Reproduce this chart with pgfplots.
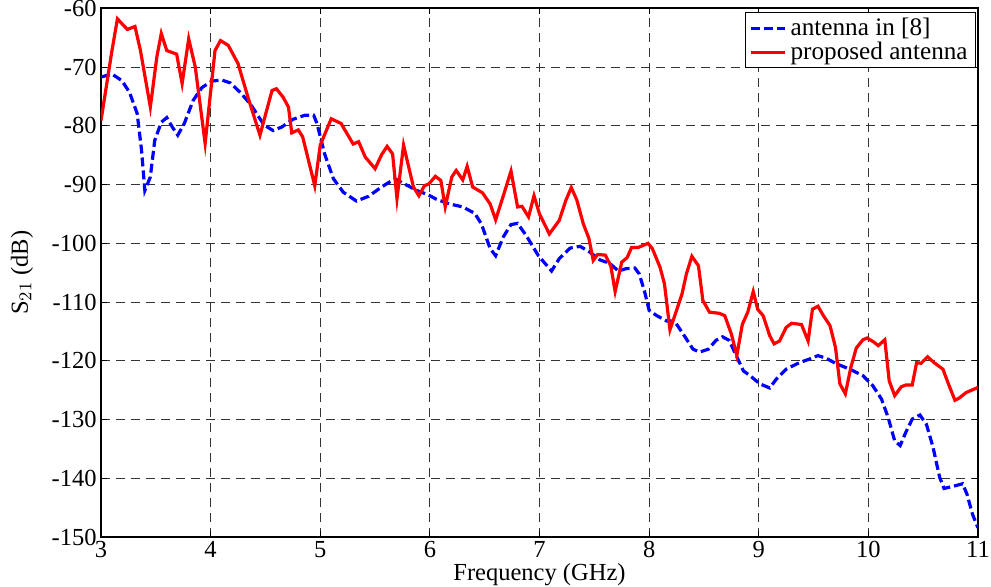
\documentclass[border=0pt]{standalone}
\usepackage{fontspec}
\setmainfont{Liberation Serif}
\usepackage{pgfplots}
\pgfplotsset{compat=1.18}
\begin{document}
\fontsize{12.25}{14}\selectfont
\begin{tikzpicture}
\begin{axis}[
  name=main,
  scale only axis,
  width=438.5pt, height=264.5pt,
  xmin=3, xmax=11, ymin=-150, ymax=-60,
  xtick={3,4,...,11}, ytick={-150,-140,...,-60},
  /pgf/number format/assume math mode=true,
  tick label style={font=\fontsize{12.25}{14}\selectfont},
  xticklabel style={inner sep=0pt, yshift=-2pt},
  yticklabel style={inner sep=0pt, xshift=-2pt},
  tick align=inside, major tick length=3pt,
  tick style={black, line width=0.5pt},
  axis line style={line width=1pt},
  grid=major,
  major grid style={black!80, dash pattern=on 4.5pt off 3pt, line width=0.45pt},
  xlabel={Frequency (GHz)},
  ylabel={S$_{21}$ (dB)},
  xlabel style={at={(axis description cs:0.5,-0.048)}, anchor=north, inner sep=0pt},
  ylabel style={at={(axis description cs:-0.077,0.5)}, anchor=south, inner sep=0pt},
  legend cell align=left,
  legend style={at={(rel axis cs:0.998,0.993)}, anchor=north east, draw=black, line width=0.6pt,
    font=\fontsize{12.6}{12.8}\selectfont, inner xsep=2pt, inner ysep=0.5pt, row sep=-2.5pt, fill=white,
    nodes={inner sep=2pt}},
  legend image post style={line width=1.6pt},
]
\addplot[blue, line width=1.6pt, dash pattern=on 4.5pt off 2pt] coordinates {
(3.00,-71.7)(3.10,-71.2)(3.19,-72.3)(3.26,-74.3)(3.33,-77.9)(3.37,-84.2)(3.40,-91.0)(3.45,-88.7)(3.49,-82.5)(3.55,-79.4)(3.60,-78.6)(3.65,-80.2)(3.70,-81.6)(3.76,-79.6)(3.84,-75.7)(3.92,-73.5)(4.01,-72.4)(4.10,-72.2)(4.18,-72.7)(4.28,-74.5)(4.37,-76.5)(4.45,-78.8)(4.49,-79.9)(4.57,-80.8)(4.65,-80.2)(4.75,-78.9)(4.86,-78.2)(4.94,-78.2)(4.97,-79.6)(5.04,-84.8)(5.12,-89.0)(5.21,-91.3)(5.33,-92.8)(5.44,-92.0)(5.56,-90.4)(5.68,-89.0)(5.77,-89.9)(5.88,-91.0)(5.98,-91.7)(6.06,-92.5)(6.18,-93.3)(6.30,-93.8)(6.41,-94.9)(6.47,-96.7)(6.55,-100.9)(6.60,-102.1)(6.67,-98.9)(6.74,-96.8)(6.80,-96.6)(6.88,-98.7)(6.99,-102.1)(7.11,-104.7)(7.18,-102.6)(7.28,-100.8)(7.37,-100.5)(7.46,-101.5)(7.55,-102.8)(7.64,-103.4)(7.72,-104.7)(7.79,-104.3)(7.87,-104.2)(7.91,-105.2)(7.96,-108.3)(8.00,-111.4)(8.07,-112.3)(8.16,-113.2)(8.23,-113.2)(8.31,-115.4)(8.40,-118.0)(8.46,-118.5)(8.54,-118.0)(8.61,-116.5)(8.67,-115.9)(8.73,-116.5)(8.78,-118.5)(8.86,-121.7)(8.92,-122.5)(9.01,-123.9)(9.10,-124.6)(9.16,-123.1)(9.25,-121.4)(9.37,-120.3)(9.46,-119.7)(9.54,-119.1)(9.61,-119.5)(9.71,-120.5)(9.83,-121.4)(9.95,-122.5)(10.04,-124.2)(10.12,-126.5)(10.18,-129.6)(10.24,-133.6)(10.29,-134.4)(10.34,-132.2)(10.40,-129.9)(10.47,-129.2)(10.53,-130.8)(10.59,-134.7)(10.65,-139.8)(10.69,-141.7)(10.78,-141.3)(10.86,-140.9)(10.90,-142.7)(10.95,-146.1)(11.00,-148.4)
};
\addlegendentry{antenna in [8]}
\addplot[red, line width=1.6pt] coordinates {
(3.00,-79.1)(3.10,-67.2)(3.15,-61.8)(3.24,-63.6)(3.31,-63.1)(3.36,-67.2)(3.45,-76.8)(3.51,-68.2)(3.55,-64.3)(3.60,-67.2)(3.69,-67.8)(3.74,-72.8)(3.80,-65.2)(3.86,-70.0)(3.95,-83.0)(4.04,-67.2)(4.09,-65.5)(4.16,-66.3)(4.25,-69.4)(4.34,-75.1)(4.45,-81.6)(4.56,-74.0)(4.60,-73.7)(4.66,-75.1)(4.71,-76.8)(4.74,-81.2)(4.80,-80.7)(4.84,-81.9)(4.95,-90.2)(5.00,-83.3)(5.10,-78.8)(5.19,-79.6)(5.30,-83.1)(5.35,-82.7)(5.41,-85.3)(5.50,-87.3)(5.56,-84.9)(5.61,-83.5)(5.66,-84.8)(5.70,-92.4)(5.76,-83.3)(5.85,-90.4)(5.90,-91.9)(5.95,-90.2)(5.99,-89.9)(6.05,-88.6)(6.10,-89.3)(6.14,-93.8)(6.20,-88.7)(6.24,-87.6)(6.30,-89.2)(6.34,-86.9)(6.39,-90.4)(6.48,-91.4)(6.55,-93.3)(6.60,-96.0)(6.67,-91.9)(6.74,-87.7)(6.80,-93.8)(6.84,-93.7)(6.90,-95.5)(6.95,-91.9)(7.00,-95.0)(7.09,-98.4)(7.18,-96.1)(7.24,-92.7)(7.29,-90.5)(7.34,-92.6)(7.40,-96.7)(7.45,-99.1)(7.49,-102.9)(7.53,-101.9)(7.60,-102.0)(7.65,-103.8)(7.69,-108.2)(7.75,-103.2)(7.80,-102.4)(7.84,-100.7)(7.90,-100.7)(7.99,-100.0)(8.03,-100.9)(8.10,-104.1)(8.14,-106.9)(8.19,-114.7)(8.25,-111.4)(8.30,-108.6)(8.34,-105.2)(8.39,-102.2)(8.45,-103.8)(8.49,-109.7)(8.55,-111.7)(8.64,-111.9)(8.69,-112.3)(8.75,-115.4)(8.80,-119.1)(8.85,-113.8)(8.90,-111.7)(8.95,-108.2)(8.99,-111.2)(9.04,-112.3)(9.10,-115.7)(9.14,-117.1)(9.19,-116.6)(9.25,-114.3)(9.30,-113.6)(9.39,-113.8)(9.45,-116.6)(9.49,-111.2)(9.54,-110.7)(9.59,-112.3)(9.65,-114.0)(9.70,-117.7)(9.74,-123.9)(9.79,-125.6)(9.84,-121.1)(9.89,-117.8)(9.95,-116.4)(9.99,-116.1)(10.05,-116.8)(10.09,-117.4)(10.15,-116.4)(10.19,-123.4)(10.24,-125.9)(10.30,-124.4)(10.34,-124.1)(10.40,-124.1)(10.44,-120.3)(10.48,-120.4)(10.54,-119.3)(10.60,-120.3)(10.68,-121.4)(10.73,-123.9)(10.79,-126.7)(10.83,-126.3)(10.89,-125.4)(11.00,-124.5)
};
\addlegendentry{proposed antenna}
\end{axis}
\path ([xshift=-50.5pt]main.south west) ([xshift=-50.5pt,yshift=-24.5pt]main.south west) ([xshift=6.5pt,yshift=4pt]main.north east);
\end{tikzpicture}
\end{document}
